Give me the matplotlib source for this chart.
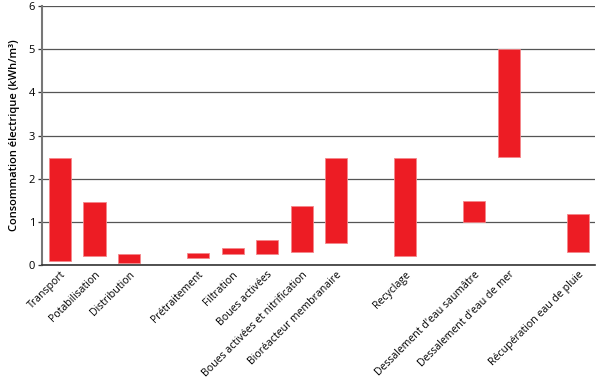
import matplotlib
matplotlib.use("Agg")
from matplotlib import pyplot as plt

plt.rcParams['font.family'] = ['Open Sans', 'DejaVu Sans']

labels = ['Transport', 'Potabilisation', 'Distribution',
          'Prétraitement', 'Filtration', 'Boues activées',
          'Boues activées et nitrification', 'Bioréacteur membranaire',
          'Recyclage',
          "Dessalement d'eau saumâtre", "Dessalement d'eau de mer",
          'Récupération eau de pluie']
# slots on the x axis (empty slots separate the groups)
slots = [0, 1, 2, 4, 5, 6, 7, 8, 10, 12, 13, 15]
low = [0.1, 0.22, 0.05, 0.17, 0.26, 0.26, 0.31, 0.51, 0.21, 1.0, 2.5, 0.31]
high = [2.48, 1.47, 0.25, 0.27, 0.39, 0.58, 1.37, 2.48, 2.48, 1.48, 5.0, 1.19]

fig = plt.figure(figsize=(6, 3.82), dpi=100)
ax = fig.add_axes([0.07, 0.306, 0.922, 0.678])

heights = [h - l for h, l in zip(high, low)]
ax.bar(slots, heights, bottom=low, width=0.64, color='#ED1C24',
       edgecolor='#F4868A', linewidth=0.6, zorder=3)

ax.set_xlim(-0.52, 15.5)
ax.set_ylim(0, 6)
ax.set_yticks(range(7))
ax.yaxis.grid(True, color='#555555', linewidth=0.9, zorder=0)
ax.set_axisbelow(True)
ax.tick_params(axis='y', labelsize=8, length=3, width=0.9, color='#333333', pad=2)
ax.tick_params(axis='x', length=0, pad=3)
ax.set_xticks(slots)
ax.set_xticklabels(labels, rotation=45, ha='right', rotation_mode='anchor', fontsize=7.6)

for s in ['top', 'right']:
    ax.spines[s].set_visible(False)
ax.spines['left'].set_color('#777777')
ax.spines['left'].set_linewidth(1.5)
ax.spines['bottom'].set_color('#333333')
ax.spines['bottom'].set_linewidth(1.2)

ax.set_ylabel('Consommation électrique (kWh/m³)', fontsize=8, fontweight='semibold', labelpad=6)

fig.savefig('out.png', dpi=100)
